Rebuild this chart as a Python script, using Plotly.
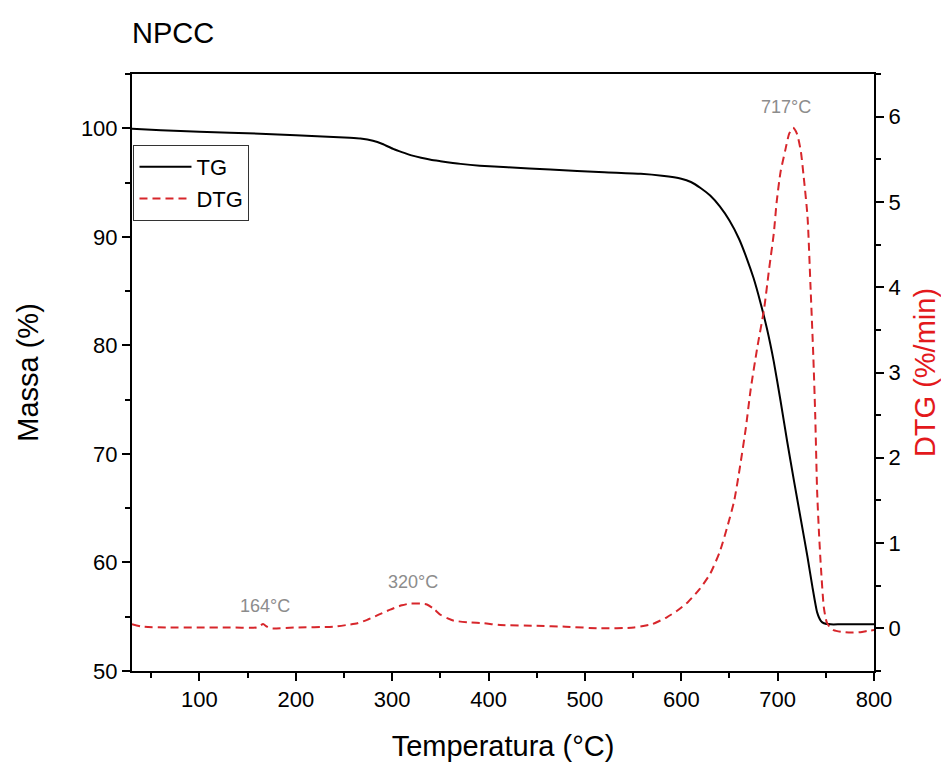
import plotly.graph_objects as go

# ---- data ----
tg_temp = [30, 60, 100, 163, 200, 256, 267, 280, 290, 301, 310, 320, 330, 340, 350, 371, 391, 420,
           464, 520, 558, 580, 600, 610, 620, 630, 640, 650, 660, 668, 675, 682, 689, 696, 703, 710,
           717, 724, 731, 736, 741, 745, 748, 755, 765, 780, 800]
tg_mass = [99.95, 99.82, 99.68, 99.5, 99.36, 99.12, 99.05, 98.85, 98.55, 98.1, 97.8, 97.5, 97.28,
           97.1, 96.97, 96.72, 96.55, 96.4, 96.2, 95.95, 95.8, 95.62, 95.35, 95.05, 94.5, 93.8, 92.8,
           91.5, 89.8, 88.0, 86.2, 84.0, 81.5, 78.5, 74.9, 71.1, 67.5, 64.0, 60.5, 57.8, 55.4, 54.6,
           54.4, 54.3, 54.3, 54.3, 54.3]

dtg_temp = [30, 41, 66, 100, 130, 159, 163, 166, 170, 174, 200, 239, 253, 264, 274, 286, 298, 310,
            318, 324, 330, 336, 343, 350, 357, 364, 380, 395, 412, 450, 480, 516, 551, 570, 585,
            596, 607, 619, 630, 640, 648, 655, 661, 667, 672, 679, 686, 691, 696, 699, 703, 708,
            712, 716, 720, 724, 727, 731, 734, 737, 739, 741, 743, 745, 748, 751, 755, 758, 766,
            776, 786, 793, 800]
dtg_val = [0.05, 0.02, 0.01, 0.01, 0.01, 0.01, 0.03, 0.05, 0.02, 0.0, 0.01, 0.02, 0.04, 0.06, 0.10,
           0.16, 0.22, 0.27, 0.29, 0.29, 0.29, 0.28, 0.23, 0.16, 0.12, 0.09, 0.07, 0.06, 0.04, 0.03,
           0.02, 0.0, 0.01, 0.05, 0.13, 0.21, 0.31, 0.46, 0.64, 0.9, 1.2, 1.5, 1.9, 2.35, 2.8, 3.3,
           3.75, 4.2, 4.63, 5.0, 5.35, 5.61, 5.8, 5.87, 5.8, 5.6, 5.3, 4.83, 4.04, 3.2, 2.5, 1.6,
           1.1, 0.7, 0.24, 0.07, 0.0, -0.02, -0.04, -0.05, -0.045, -0.03, -0.02]

peak_labels = ["164°C", "320°C", "717°C"]
peak_temp = [168, 322, 709]
peak_label_y = [0.26, 0.54, 6.11]

x_ticks = [100, 200, 300, 400, 500, 600, 700, 800]
mass_ticks = [50, 60, 70, 80, 90, 100]
dtg_ticks = [0, 1, 2, 3, 4, 5, 6]

FONT = "Arial, Liberation Sans, sans-serif"
RED_LINE = "#d7262b"
RED_TEXT = "#e3191c"

fig = go.Figure()
fig.add_trace(go.Scatter(x=tg_temp, y=tg_mass, name="TG", mode="lines",
                         line=dict(color="black", width=2, shape="spline", smoothing=0.5)))
fig.add_trace(go.Scatter(x=dtg_temp, y=dtg_val, name="DTG", mode="lines", yaxis="y2",
                         line=dict(color=RED_LINE, width=2, dash="8px,5px",
                                   shape="spline", smoothing=0.6)))

for lab, tx, ty in zip(peak_labels, peak_temp, peak_label_y):
    fig.add_annotation(x=tx, y=ty, xref="x", yref="y2", text=lab, showarrow=False,
                       font=dict(family=FONT, size=18, color="#8c8c8c"))

axis_common = dict(showline=True, linecolor="black", linewidth=2, ticks="outside",
                   ticklen=8, tickwidth=2, tickcolor="black", showgrid=False, zeroline=False,
                   automargin=False,
                   tickfont=dict(family=FONT, size=22, color="black"))

fig.update_layout(
    width=941, height=762,
    margin=dict(l=132, r=67, t=74, b=91),
    paper_bgcolor="white", plot_bgcolor="white",
    font=dict(family=FONT, color="black"),
    title=dict(text="NPCC", x=0, xref="paper", xanchor="left", y=1 - 33 / 762,
               yanchor="middle", font=dict(family=FONT, size=29, color="black")),
    xaxis=dict(range=[30, 800], tickvals=x_ticks, mirror=True,
               minor=dict(ticks="outside", ticklen=5, tickwidth=2, tickcolor="black",
                          tick0=0, dtick=50),
               title=dict(text="Temperatura (°C)", font=dict(family=FONT, size=29), standoff=26),
               **axis_common),
    yaxis=dict(range=[50, 105], tickvals=mass_ticks,
               minor=dict(ticks="outside", ticklen=5, tickwidth=2, tickcolor="black",
                          tick0=0, dtick=5),
               title=dict(text="Massa (%)", font=dict(family=FONT, size=29), standoff=34),
               **axis_common),
    yaxis2=dict(range=[-0.5, 6.5], tickvals=dtg_ticks, overlaying="y", side="right",
                minor=dict(ticks="outside", ticklen=5, tickwidth=2, tickcolor="black",
                           tick0=0, dtick=0.5),
                title=dict(text="DTG (%/min)", font=dict(family=FONT, size=29, color=RED_TEXT),
                           standoff=17),
                **axis_common),
    legend=dict(x=0.002, y=0.881, xanchor="left", yanchor="top",
                bgcolor="white", bordercolor="#333333", borderwidth=1,
                font=dict(family=FONT, size=22, color="black"),
                tracegroupgap=0, itemwidth=52),
    showlegend=True,
)

fig.write_html("out.html", config={"displayModeBar": False},
               post_script="document.body.style.margin='0';document.body.style.overflow='hidden';")
